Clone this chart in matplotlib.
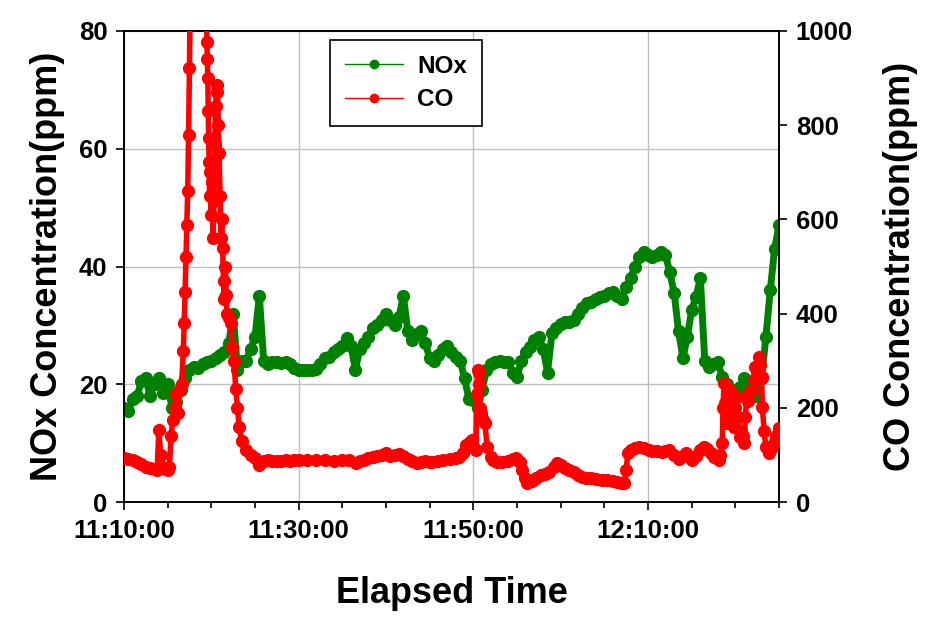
import matplotlib
matplotlib.use("Agg")
import matplotlib.pyplot as plt
from matplotlib.lines import Line2D

plt.rcParams['font.family'] = ['Liberation Sans', 'DejaVu Sans']
plt.rcParams['font.weight'] = 'bold'

# ---- data (minutes after 11:10:00) ----
nox_time = [i * 0.5 for i in range(151)]
nox_value = [
    16, 15.5, 17.5, 18, 20.5, 21, 18, 20, 21, 18.5,
    20, 16, 17, 19, 21, 22.5, 23, 22.8, 23.5, 23.8,
    24, 24.5, 25, 25.5, 27, 32, 22.5, 24, 24, 26,
    28, 35, 24, 23.5, 23.8, 23.8, 23.6, 23.8, 23.5, 22.8,
    22.4, 22.4, 22.4, 22.4, 22.6, 23.5, 24.5, 24.7, 25.5, 26,
    26.5, 27.8, 26.5, 22.4, 26, 27, 28, 29.5, 30, 31,
    32, 31, 30, 31.5, 35, 29, 27.5, 28.5, 29, 27,
    24.5, 24, 25, 26, 26.5, 25.5, 24.7, 24, 21, 17.5,
    17.3, 16, 19, 22.4, 23.5, 23.8, 24, 23.8, 23.8, 22,
    21.2, 24, 25.5, 26.3, 27.5, 28, 26, 22, 28.7, 29.5,
    30.2, 30.5, 30.6, 31, 32, 33, 33.8, 34, 34.5, 34.8,
    35, 35.5, 35.7, 35, 34.5, 36.5, 38, 40, 41.6, 42.5,
    42, 41.6, 42, 42.5, 42, 39, 35.5, 29, 24.5, 28,
    32.6, 34.8, 38, 24, 23, 23.5, 23.8, 21.2, 20, 19,
    18.7, 19.5, 21, 18.2, 18, 18, 21, 28, 36, 43,
    47,
]

co_time = [
    0, 0.5, 1.0, 1.5, 2.0, 2.5, 3.0, 3.5, 3.8, 4.0, 4.2, 4.4, 4.7, 5.0, 5.2,
    5.4, 5.6, 5.8, 6.0, 6.2, 6.4, 6.6, 6.8, 6.9, 7.0, 7.1, 7.2, 7.3, 7.4, 7.5,
    7.6, 7.7, 9.3, 9.4, 9.45, 9.5, 9.55, 9.6, 9.65, 9.7, 9.75, 9.8, 9.9, 10.0,
    10.1, 10.2, 10.3, 10.4, 10.5, 10.6, 10.7, 10.8, 10.9, 11.0, 11.1, 11.2,
    11.3, 11.4, 11.5, 11.6, 11.7, 11.8, 12.0, 12.2, 12.4, 12.6, 12.8, 13.0,
    13.2, 13.5, 14.0, 14.5, 15.0, 15.5, 16, 16.5, 17, 17.5, 18, 18.5, 19, 19.5,
    20, 21, 22, 23, 24, 25, 25.8, 26.6, 27, 27.5, 28, 28.5, 29, 29.5, 30, 30.5,
    31, 31.5, 32, 32.5, 33, 33.5, 34, 34.5, 35, 35.3, 36, 36.5, 37.3, 38, 38.4,
    38.8, 39.2, 39.6, 39.9, 40.1, 40.3, 40.4, 40.5, 40.6, 40.7, 40.8, 40.9, 41.1,
    41.3, 41.6, 42.0, 42.2, 42.7, 43.3, 44, 44.5, 44.9, 45.3, 45.6, 45.9, 46.2,
    46.7, 47.2, 47.8, 48.2, 48.7, 49.2, 49.6, 50, 50.5, 51, 51.5, 52, 52.5, 52.9,
    53.5, 54, 54.7, 55.3, 56, 56.5, 56.9, 57.3, 57.5, 57.7, 58, 58.5, 59, 59.5,
    60.1, 60.5, 61, 61.6, 62, 62.4, 63, 63.5, 64, 64.3, 64.7, 65, 65.5, 66,
    66.4, 66.8, 67.2, 67.6, 68.1, 68.3, 68.5, 68.6, 68.7, 68.85, 69, 69.2, 69.35,
    69.5, 69.65, 69.8, 70, 70.2, 70.35, 70.5, 70.7, 70.85, 71, 71.15, 71.3, 71.5,
    71.7, 71.9, 72.1, 72.3, 72.5, 72.7, 72.85, 73, 73.1, 73.3, 73.5, 73.8, 74.1,
    74.4, 74.7, 75,
]
co_value = [
    93, 92, 90, 85, 80, 75, 72, 70, 68, 153, 100, 75, 70, 68, 75,
    140, 175, 200, 230, 190, 240, 250, 320, 380, 446, 520, 588, 660, 780, 921,
    1100, 1300, 1300, 1100, 1030, 977, 940, 900, 830, 773, 722, 650, 700, 610,
    680, 560, 640, 760, 840, 885, 870, 800, 740, 650, 560, 600,
    540, 470, 430, 500, 440, 400, 390, 380, 330, 300, 240, 200,
    160, 130, 110, 100, 93, 79, 88, 90, 88, 87, 87, 89, 88, 89,
    90, 89, 89, 90, 88, 90, 89, 82, 88, 90, 93, 96, 98, 100, 104, 98,
    100, 102, 98, 92, 88, 83, 86, 88, 86, 85, 88, 89, 91, 94, 96,
    105, 121, 128, 132, 115, 110, 230, 280, 250, 274, 200, 189, 175,
    168, 117, 95, 89, 86, 85, 88, 91, 93, 85, 68, 50, 40,
    45, 51, 57, 60, 64, 75, 83, 78, 72, 68, 63, 58, 54, 51,
    50, 49, 47, 46, 44, 42, 40, 40, 68, 104, 110, 115, 117, 114,
    110, 109, 108, 106, 108, 110, 100, 91, 98, 104, 95, 89, 98, 110,
    117, 112, 104, 96, 89, 100, 125, 200, 253, 210, 168, 200, 238,
    230, 190, 159, 200, 223, 180, 138, 150, 140, 125, 180, 223, 215,
    235, 238, 260, 287, 275, 308, 290, 265, 202, 150, 117, 104, 112,
    125, 140, 157,
]

x_tick_pos = [0, 20, 40, 60]
x_tick_labels = ["11:10:00", "11:30:00", "11:50:00", "12:10:00"]
left_ticks = [0, 20, 40, 60, 80]
right_ticks = [0, 200, 400, 600, 800, 1000]

GREEN = '#008000'
RED = '#ff0000'

fig = plt.figure(figsize=(9.39, 6.26), dpi=100)
ax = fig.add_axes([0.132, 0.198, 0.6976, 0.7525])
ax2 = ax.twinx()

ax.plot(nox_time, nox_value, color=GREEN, lw=5, marker='o', ms=8.5,
        mec=GREEN, mfc=GREEN, zorder=3, solid_joinstyle='round',
        solid_capstyle='round')
ax2.plot(co_time, co_value, color=RED, lw=4, marker='o', ms=8.5,
         mec=RED, mfc=RED, zorder=3, solid_joinstyle='round',
         solid_capstyle='round')

ax.set_xlim(0, 75)
ax.set_ylim(0, 80)
ax2.set_ylim(0, 1000)

ax.set_xticks(x_tick_pos)
ax.set_xticklabels(x_tick_labels)
ax.set_xticks([i * 5 for i in range(16)], minor=True)
ax.set_yticks(left_ticks)
ax2.set_yticks(right_ticks)

ax.grid(True, which='major', color='#c0c0c0', lw=1)
ax.set_axisbelow(True)

for a in (ax, ax2):
    for s in a.spines.values():
        s.set_color('black')
        s.set_linewidth(1.2)

ax.tick_params(axis='both', which='major', length=6, width=1.2, direction='out',
               labelsize=18.5, pad=6)
ax.tick_params(axis='x', which='minor', length=4, width=1.2, direction='out')
ax2.tick_params(axis='y', length=6, width=1.2, direction='out', labelsize=18.5, pad=6)
for lbl in ax.get_xticklabels() + ax.get_yticklabels() + ax2.get_yticklabels():
    lbl.set_fontweight('bold')

ax.set_xlabel('Elapsed Time', fontsize=26, fontweight='bold', labelpad=24)
ax.set_ylabel('NOx Concentration(ppm)', fontsize=26, fontweight='bold', labelpad=10)
ax2.set_ylabel('CO Concentration(ppm)', fontsize=26, fontweight='bold', labelpad=22)

handles = [
    Line2D([], [], color=GREEN, lw=1, marker='o', ms=6, mfc=GREEN, mec=GREEN),
    Line2D([], [], color=RED, lw=1, marker='o', ms=6, mfc=RED, mec=RED),
]
leg = ax2.legend(handles, ['NOx', 'CO'], loc='upper left',
                 bbox_to_anchor=(0.3145, 0.981), fontsize=17.5, frameon=True,
                 fancybox=False, edgecolor='black', framealpha=1,
                 handlelength=2.4, borderpad=0.6, labelspacing=0.45,
                 handletextpad=0.6, borderaxespad=0)
leg.get_frame().set_linewidth(1.2)
for t in leg.get_texts():
    t.set_fontweight('bold')

fig.savefig('out.png', dpi=100)
